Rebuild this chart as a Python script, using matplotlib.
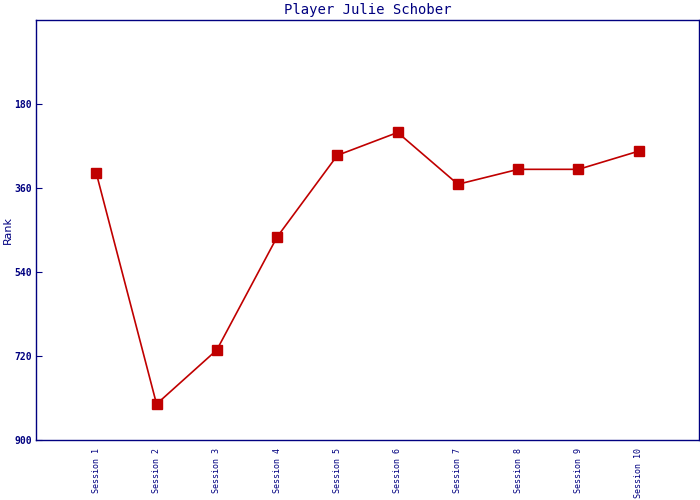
import matplotlib
matplotlib.use('Agg')
import matplotlib.pyplot as plt

sessions = ['Session 1', 'Session 2', 'Session 3', 'Session 4', 'Session 5',
            'Session 6', 'Session 7', 'Session 8', 'Session 9', 'Session 10']
ranks = [328, 823, 707, 465, 290, 241, 352, 320, 320, 281]
yticks = [180, 360, 540, 720, 900]

navy = '#000080'
red = '#c00000'

fig = plt.figure(figsize=(7, 5), dpi=100)
ax = fig.add_axes([36 / 700, 60 / 500, 663 / 700, 420 / 500])

x = list(range(1, len(sessions) + 1))
ax.plot(x, ranks, color=red, lw=1.2, marker='s', markersize=7,
        markerfacecolor=red, markeredgecolor=red)

ax.set_xlim(0, len(sessions) + 1)
ax.set_ylim(900, 0)
ax.set_yticks(yticks)
ax.set_yticklabels([str(v) for v in yticks], fontsize=7, color=navy,
                   family='DejaVu Sans Mono', fontweight='bold')
ax.set_xticks(x)
ax.set_xticklabels(sessions, rotation=90, fontsize=6, color=navy,
                   family='DejaVu Sans Mono', va='top')
ax.tick_params(axis='y', direction='in', length=4, color=navy, pad=3)
ax.tick_params(axis='x', length=0, pad=6)
for s in ax.spines.values():
    s.set_color(navy)
    s.set_linewidth(1)

ax.set_ylabel('Rank', fontsize=8, color=navy, labelpad=6)
ax.yaxis.set_label_coords(-0.035, 0.5)
ax.set_title('Player Julie Schober', fontsize=10, color=navy,
             family='DejaVu Sans Mono', pad=4)

plt.savefig('out.png', dpi=100)
